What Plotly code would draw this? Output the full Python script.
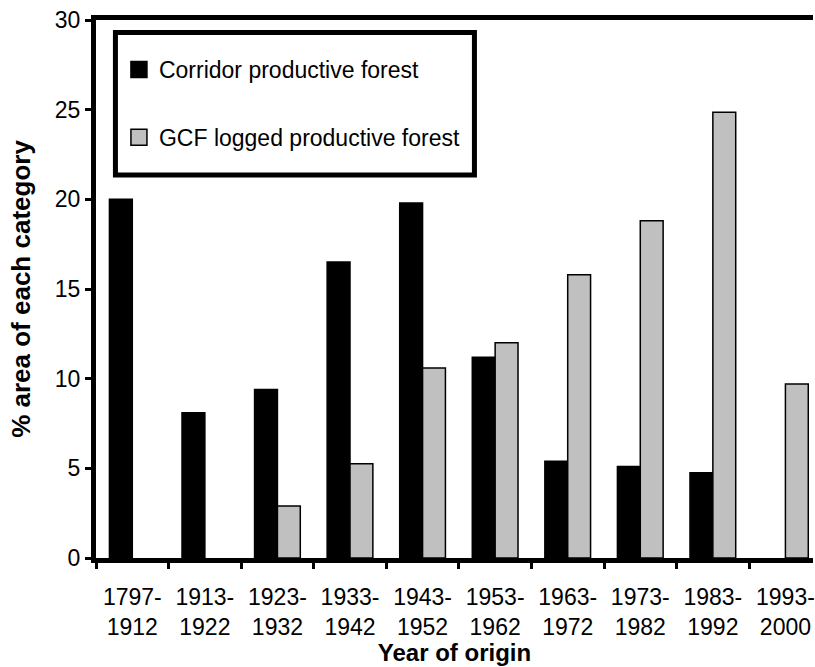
import plotly.graph_objects as go

periods = ["1797-<br>1912", "1913-<br>1922", "1923-<br>1932", "1933-<br>1942", "1943-<br>1952",
           "1953-<br>1962", "1963-<br>1972", "1973-<br>1982", "1983-<br>1992", "1993-<br>2000"]
corridor = [20.0, 8.1, 9.4, 16.5, 19.8, 11.2, 5.4, 5.1, 4.75, 0.0]
gcf_logged = [0.0, 0.0, 2.9, 5.25, 10.6, 12.0, 15.8, 18.8, 24.85, 9.7]
y_ticks = [0, 5, 10, 15, 20, 25, 30]

FONT = "Arial, Liberation Sans, sans-serif"
GREY = "#c0c0c0"


def outline(values):
    # no outline on empty bars, so nothing is drawn for zero values
    return [0 if v == 0 else 1.5 for v in values]


fig = go.Figure()
fig.add_trace(go.Bar(x=periods, y=corridor, name="Corridor productive forest",
                     marker=dict(color="black",
                                 line=dict(color="black", width=outline(corridor))),
                     showlegend=False))
fig.add_trace(go.Bar(x=periods, y=gcf_logged, name="GCF logged productive forest",
                     marker=dict(color=GREY,
                                 line=dict(color="black", width=outline(gcf_logged))),
                     showlegend=False))

# legend entries with larger square swatches
for name, col, grp in [("Corridor productive forest", "black", "a"),
                       ("GCF logged productive forest", GREY, "b")]:
    fig.add_trace(go.Scatter(x=[None], y=[None], mode="markers", name=name,
                             legendgroup=grp,
                             marker=dict(symbol="square", size=16, color=col,
                                         line=dict(color="black", width=1.5))))

# heavy frame around the legend
fig.add_shape(type="rect", xref="paper", yref="paper",
              x0=0.0271, x1=0.5278, y0=0.712, y1=0.9768,
              line=dict(color="black", width=5), fillcolor="white", layer="above")

fig.update_layout(
    width=815, height=667,
    margin=dict(l=96, r=0, t=20, b=109),
    paper_bgcolor="white", plot_bgcolor="white",
    barmode="group", bargap=0.37, bargroupgap=0.0,
    font=dict(family=FONT, size=23, color="black"),
    showlegend=True,
    legend=dict(x=0.032, y=0.948, xanchor="left", yanchor="top",
                bgcolor="rgba(0,0,0,0)", borderwidth=0,
                tracegroupgap=35, font=dict(size=23, family=FONT),
                itemwidth=30),
    xaxis=dict(type="category", range=[-0.5, 9.38], tickson="boundaries",
               ticks="outside", ticklen=6, tickwidth=3, tickcolor="black",
               ticklabelstandoff=14,
               showline=True, linewidth=5, linecolor="black", mirror=True,
               showgrid=False, tickfont=dict(size=23),
               title=dict(text="<b>Year of origin</b>", font=dict(size=24), standoff=3)),
    yaxis=dict(range=[0, 30], tickvals=y_ticks, ticks="outside", ticklen=6,
               tickwidth=3, tickcolor="black", showline=True, linewidth=5,
               linecolor="black", showgrid=False, zeroline=False,
               tickfont=dict(size=23),
               title=dict(text="<b>% area of each category</b>", font=dict(size=26),
                          standoff=18)),
)

fig.write_html("out.html")
